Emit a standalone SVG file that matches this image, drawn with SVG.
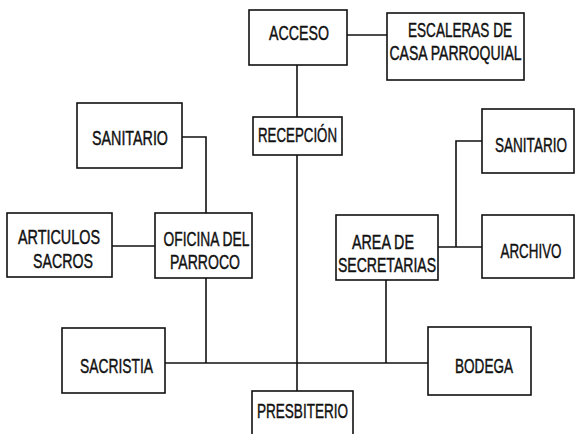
<svg xmlns="http://www.w3.org/2000/svg" width="577" height="434" viewBox="0 0 577 434">
<style>
.box{fill:#fff;stroke:#111;stroke-width:1.6}
.lbl{font-family:"Liberation Sans",Arial,sans-serif;font-size:13px;fill:#111;stroke:#111;stroke-width:0.28;text-anchor:middle}
.con{fill:none;stroke:#111;stroke-width:1.6}
</style>
<rect width="577" height="434" fill="#fff"/>
<g id="connectors">
<path class="con" d="M347,35 H387"/>
<path class="con" d="M297,65 V117"/>
<path class="con" d="M297,155 V391"/>
<path class="con" d="M182,137 H206 V213"/>
<path class="con" d="M112,246 H155"/>
<path class="con" d="M206,278 V363"/>
<path class="con" d="M165,363 H428"/>
<path class="con" d="M386,280 V363"/>
<path class="con" d="M438,247 H482"/>
<path class="con" d="M456,247 V141 H482"/>
</g>
<g id="acceso"><rect class="box" x="249" y="10" width="98" height="55"/><text class="lbl" transform="translate(299,40) scale(1,1.5)" textLength="60" lengthAdjust="spacingAndGlyphs">ACCESO</text></g>
<g id="escaleras"><rect class="box" x="387" y="13" width="137" height="67"/><text class="lbl" transform="translate(460,37) scale(1,1.5)" textLength="104" lengthAdjust="spacingAndGlyphs">ESCALERAS DE</text><text class="lbl" transform="translate(455.5,60) scale(1,1.5)" textLength="132" lengthAdjust="spacingAndGlyphs">CASA PARROQUIAL</text></g>
<g id="recepcion"><rect class="box" x="253" y="117" width="89" height="38"/><text class="lbl" transform="translate(297.5,142) scale(1,1.5)" textLength="79" lengthAdjust="spacingAndGlyphs">RECEPCIÓN</text></g>
<g id="sanitario1"><rect class="box" x="77" y="103" width="105" height="65"/><text class="lbl" transform="translate(130,145) scale(1,1.5)" textLength="76" lengthAdjust="spacingAndGlyphs">SANITARIO</text></g>
<g id="sanitario2"><rect class="box" x="482" y="109" width="92" height="64"/><text class="lbl" transform="translate(531,152) scale(1,1.5)" textLength="72" lengthAdjust="spacingAndGlyphs">SANITARIO</text></g>
<g id="articulos"><rect class="box" x="7" y="213" width="105" height="64"/><text class="lbl" transform="translate(59,244) scale(1,1.5)" textLength="82" lengthAdjust="spacingAndGlyphs">ARTICULOS</text><text class="lbl" transform="translate(63,268) scale(1,1.5)" textLength="60" lengthAdjust="spacingAndGlyphs">SACROS</text></g>
<g id="oficina"><rect class="box" x="155" y="213" width="97" height="65"/><text class="lbl" transform="translate(206.5,246) scale(1,1.5)" textLength="86" lengthAdjust="spacingAndGlyphs">OFICINA DEL</text><text class="lbl" transform="translate(205,269) scale(1,1.5)" textLength="70" lengthAdjust="spacingAndGlyphs">PARROCO</text></g>
<g id="area"><rect class="box" x="336" y="215" width="102" height="65"/><text class="lbl" transform="translate(383,249) scale(1,1.5)" textLength="62" lengthAdjust="spacingAndGlyphs">AREA DE</text><text class="lbl" transform="translate(387,272) scale(1,1.5)" textLength="98" lengthAdjust="spacingAndGlyphs">SECRETARIAS</text></g>
<g id="archivo"><rect class="box" x="482" y="215" width="92" height="63"/><text class="lbl" transform="translate(531,258) scale(1,1.5)" textLength="61" lengthAdjust="spacingAndGlyphs">ARCHIVO</text></g>
<g id="sacristia"><rect class="box" x="62" y="328" width="103" height="65"/><text class="lbl" transform="translate(116.5,373) scale(1,1.5)" textLength="73" lengthAdjust="spacingAndGlyphs">SACRISTIA</text></g>
<g id="bodega"><rect class="box" x="428" y="327" width="103" height="68"/><text class="lbl" transform="translate(484,373) scale(1,1.5)" textLength="58" lengthAdjust="spacingAndGlyphs">BODEGA</text></g>
<g id="presbiterio"><rect class="box" x="252" y="391" width="101" height="50"/><text class="lbl" transform="translate(302.5,418) scale(1,1.5)" textLength="91" lengthAdjust="spacingAndGlyphs">PRESBITERIO</text></g>
</svg>
